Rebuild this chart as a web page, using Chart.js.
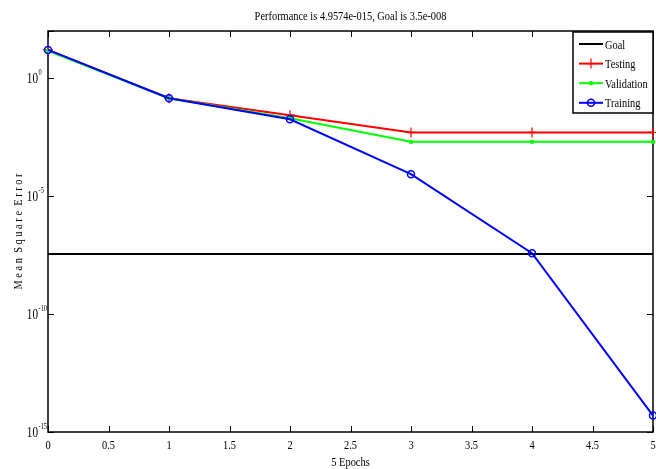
<!DOCTYPE html>
<html>
<head>
<meta charset="utf-8">
<script src="https://cdn.jsdelivr.net/npm/chart.js@4.4.0/dist/chart.umd.min.js"></script>
<style>
  body { margin: 0; background: #fff; }
</style>
</head>
<body>
<canvas id="perfChart" width="656" height="469"></canvas>
<script>
let epochs = [0, 1, 2, 3, 4, 5];
let training = [15.8, 0.142, 0.018, 8.5e-5, 3.8e-8, 4.9574e-15];
let validation = [14.5, 0.142, 0.020, 0.0020, 0.0020, 0.0020];
let testing = [15.8, 0.142, 0.027, 0.0050, 0.0050, 0.0050];
let goal = 3.5e-8;
let xTicks = [0, 0.5, 1, 1.5, 2, 2.5, 3, 3.5, 4, 4.5, 5];
let yTicks = [1e2, 1, 1e-5, 1e-10, 1e-15];
let yTickExp = ['', '0', '-5', '-10', '-15'];
let titleText = 'Performance is 4.9574e-015, Goal is 3.5e-008';

const FONT = '"Liberation Serif", "DejaVu Serif", serif';
const SX = 0.8; // text looks squeezed sideways in the reference

function pts(values) {
    return epochs.map((e, i) => ({ x: e, y: values[i] }));
}

function squeezedText(ctx, str, x, y, align, size) {
    ctx.save();
    ctx.font = size + 'px ' + FONT;
    ctx.fillStyle = '#000';
    ctx.textAlign = align;
    ctx.textBaseline = 'alphabetic';
    ctx.translate(x, y);
    ctx.scale(SX, 1);
    ctx.fillText(str, 0, 0);
    ctx.restore();
}

// axes box, inward ticks and all the text, drawn MATLAB style
let matlabAxes = {
    id: 'matlabAxes',
    beforeDatasetsDraw(chart) {
        let ctx = chart.ctx;
        let a = chart.chartArea;
        let xs = chart.scales.x;
        let ys = chart.scales.y;
        ctx.save();
        ctx.strokeStyle = '#000';
        ctx.lineWidth = 1.5;
        ctx.strokeRect(a.left, a.top, a.right - a.left, a.bottom - a.top);
        ctx.lineWidth = 1;
        ctx.beginPath();
        xTicks.forEach(v => {
            let px = Math.round(xs.getPixelForValue(v)) + 0.5;
            ctx.moveTo(px, a.bottom); ctx.lineTo(px, a.bottom - 6);
            ctx.moveTo(px, a.top); ctx.lineTo(px, a.top + 6);
        });
        yTicks.forEach(v => {
            let py = Math.round(ys.getPixelForValue(v)) + 0.5;
            ctx.moveTo(a.left, py); ctx.lineTo(a.left + 6, py);
            ctx.moveTo(a.right, py); ctx.lineTo(a.right - 6, py);
        });
        ctx.stroke();
        ctx.restore();
    },
    afterDraw(chart) {
        let ctx = chart.ctx;
        let a = chart.chartArea;
        let xs = chart.scales.x;
        let ys = chart.scales.y;

        squeezedText(ctx, titleText, (a.left + a.right) / 2, 20, 'center', 13);

        xTicks.forEach(v => {
            squeezedText(ctx, String(v), xs.getPixelForValue(v), 449, 'center', 13);
        });
        squeezedText(ctx, '5 Epochs', (a.left + a.right) / 2, 466, 'center', 13);

        yTicks.forEach((v, i) => {
            if (!yTickExp[i]) return;
            let py = ys.getPixelForValue(v);
            squeezedText(ctx, '10', 38, py + 5, 'right', 14);
            squeezedText(ctx, yTickExp[i], 38.5, py - 3, 'left', 8);
        });

        ctx.save();
        ctx.translate(22, (a.top + a.bottom) / 2);
        ctx.rotate(-Math.PI / 2);
        ctx.font = '13px ' + FONT;
        ctx.fillStyle = '#000';
        ctx.textAlign = 'center';
        ctx.scale(SX, 1);
        ctx.fillText('M e a n  S q u a r e  E r r o r', 0, 0);
        ctx.restore();

        // legend box in the top right corner
        let order = [3, 2, 1, 0];
        let bx = 573, by = 32, bw = a.right - 573, bh = 81;
        ctx.save();
        ctx.fillStyle = '#fff';
        ctx.fillRect(bx, by, bw, bh);
        ctx.strokeStyle = '#000';
        ctx.lineWidth = 1.5;
        ctx.strokeRect(bx, by, bw, bh);
        order.forEach((di, row) => {
            let ds = chart.data.datasets[di];
            let ry = 44 + row * 19.6;
            ctx.strokeStyle = ds.borderColor;
            ctx.lineWidth = 2;
            ctx.beginPath();
            ctx.moveTo(579, ry); ctx.lineTo(603, ry);
            ctx.stroke();
            if (ds.pointRadius > 0) {
                ctx.strokeStyle = ds.pointBorderColor;
                ctx.fillStyle = ds.pointBackgroundColor;
                ctx.lineWidth = ds.pointBorderWidth;
                Chart.helpers.drawPoint(ctx, {
                    pointStyle: ds.pointStyle,
                    radius: ds.pointRadius,
                    borderWidth: ds.pointBorderWidth,
                    rotation: 0
                }, 591, ry);
            }
            squeezedText(ctx, ds.label, 605, ry + 4.5, 'left', 13);
        });
        ctx.restore();
    }
};

let perfCanvas = document.getElementById('perfChart').getContext('2d');
let perfChart = new Chart(perfCanvas, {
    type: 'line',
    data: {
        datasets: [
            {
                label: 'Training',
                data: pts(training),
                borderColor: '#0000ff',
                borderWidth: 2,
                pointStyle: 'circle',
                pointRadius: 3.5,
                pointBorderWidth: 1.5,
                pointBackgroundColor: 'rgba(255,255,255,0)',
                pointBorderColor: '#0000ff',
                clip: false
            },
            {
                label: 'Validation',
                data: pts(validation),
                borderColor: '#00ff00',
                borderWidth: 2,
                pointStyle: 'rect',
                pointRadius: 2,
                pointBorderWidth: 1,
                pointBackgroundColor: '#00ff00',
                pointBorderColor: '#00ff00',
                clip: false
            },
            {
                label: 'Testing',
                data: pts(testing),
                borderColor: '#ff0000',
                borderWidth: 2,
                pointStyle: 'cross',
                pointRadius: 5,
                pointBorderWidth: 1.2,
                pointBackgroundColor: '#ff0000',
                pointBorderColor: '#ff0000',
                clip: false
            },
            {
                label: 'Goal',
                data: [{ x: epochs[0], y: goal }, { x: epochs[epochs.length - 1], y: goal }],
                borderColor: '#000000',
                borderWidth: 2,
                pointRadius: 0,
                clip: false
            }
        ]
    },
    options: {
        responsive: false,
        animation: false,
        layout: { autoPadding: false, padding: { top: 31, right: 3, left: 0, bottom: 0 } },
        plugins: {
            legend: { display: false },
            title: { display: false },
            tooltip: { enabled: false }
        },
        elements: { line: { tension: 0 } },
        scales: {
            x: {
                type: 'linear',
                min: 0,
                max: 5,
                grid: { display: false },
                border: { display: false },
                ticks: { display: false, stepSize: 0.5 },
                afterFit(s) { s.height = 37; }
            },
            y: {
                type: 'logarithmic',
                min: 1e-15,
                max: 1e2,
                grid: { display: false },
                border: { display: false },
                ticks: { display: false },
                afterFit(s) { s.width = 48; }
            }
        }
    },
    plugins: [matlabAxes]
});
</script>
</body>
</html>
